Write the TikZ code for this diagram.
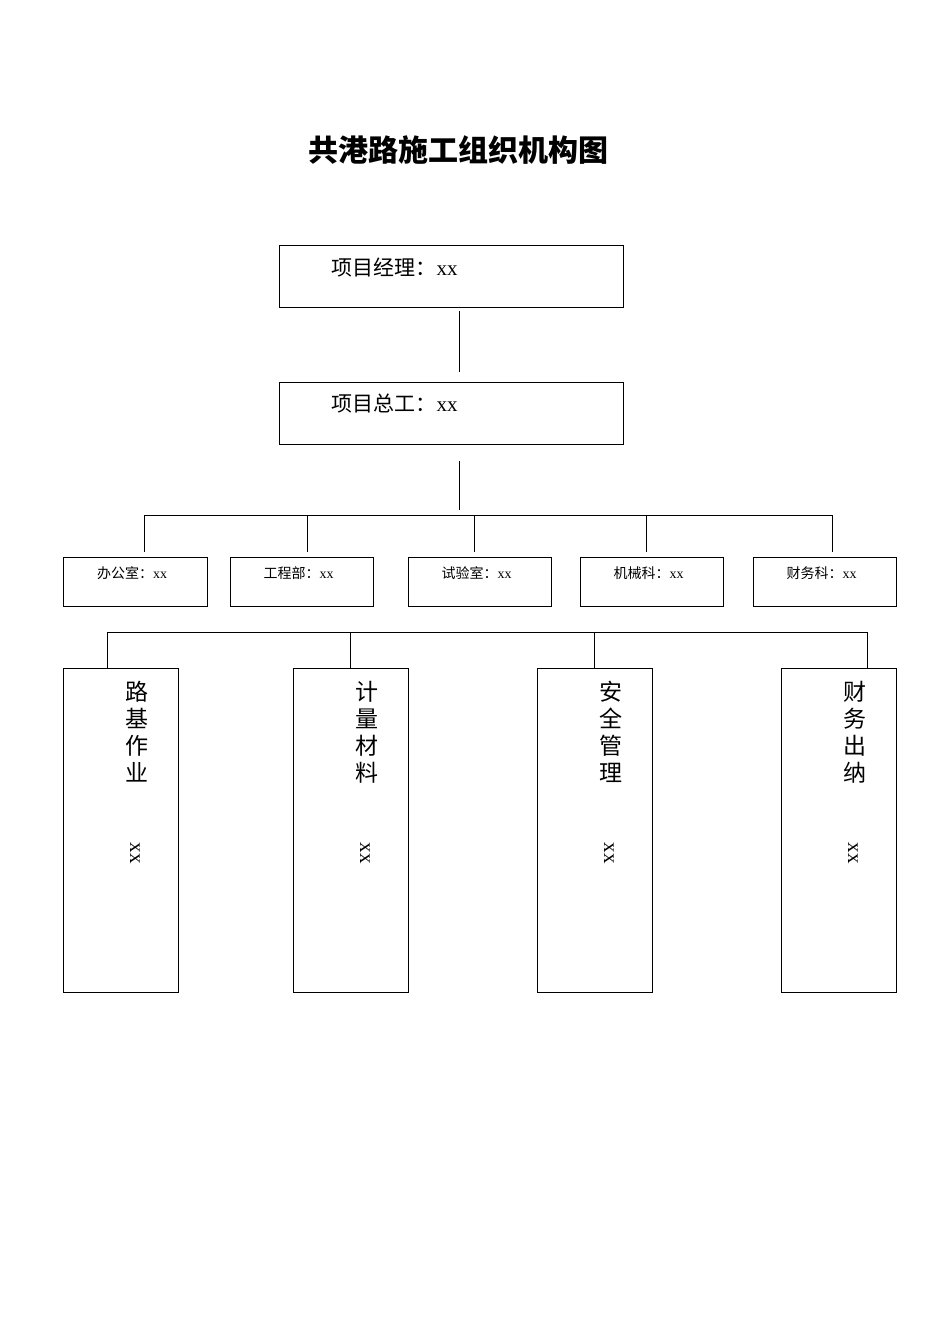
\documentclass[tikz,border=0pt]{standalone}
\usepackage{fontspec}
\setmainfont{Liberation Serif}
\newfontfamily\cjk{Noto Sans CJK SC}
\begin{document}
\begin{tikzpicture}[x=1pt,y=-1pt,
 box/.style={draw,line width=0.8pt,inner sep=0pt},
 ln/.style={line width=0.8pt}]
\useasboundingbox (0,0) rectangle (950,1344);
\node[font=\cjk\bfseries\fontsize{30}{32}\selectfont] (title) at (458,150) {共港路施工组织机构图};
\draw[box] (279,245) rectangle (623,307);
\node[anchor=west,font=\fontsize{21}{23}\selectfont] (pm) at (328,268) {{\cjk 项目经理：}xx};
\draw[box] (279,382) rectangle (623,444);
\node[anchor=west,font=\fontsize{21}{23}\selectfont] (ce) at (328,404) {{\cjk 项目总工：}xx};
\draw[ln] (459,311) -- (459,372);
\draw[ln] (459,461) -- (459,510);
\draw[ln] (144,515) -- (832,515);
\foreach \x in {144,307,474,646,832} \draw[ln] (\x,515) -- (\x,552);
\foreach \a/\b/\t/\n in {63/207/办公室/d1,230/373/工程部/d2,408/551/试验室/d3,580/723/机械科/d4,753/896/财务科/d5}{
 \draw[box] (\a,557) rectangle (\b,606);
 \node[font=\fontsize{14}{16}\selectfont] (\n) at ({(\a+\b)/2-3},573) {{\cjk \t：}xx};
}
\draw[ln] (107,632) -- (867,632);
\foreach \x in {107,350,594,867} \draw[ln] (\x,632) -- (\x,668);
\foreach \a/\b/\c/\d/\e/\f/\n in {63/178/路/基/作/业/t1,293/408/计/量/材/料/t2,537/652/安/全/管/理/t3,781/896/财/务/出/纳/t4}{
 \draw[box] (\a,668) rectangle (\b,992);
 \node[font=\cjk\fontsize{23}{27}\selectfont,align=center,anchor=north] (\n) at ({\a+74},678) {\c\\\d\\\e\\\f};
 \node[font=\fontsize{21}{23}\selectfont,rotate=-90] at ({\a+72},853) {xx};
}
\end{tikzpicture}
\end{document}
